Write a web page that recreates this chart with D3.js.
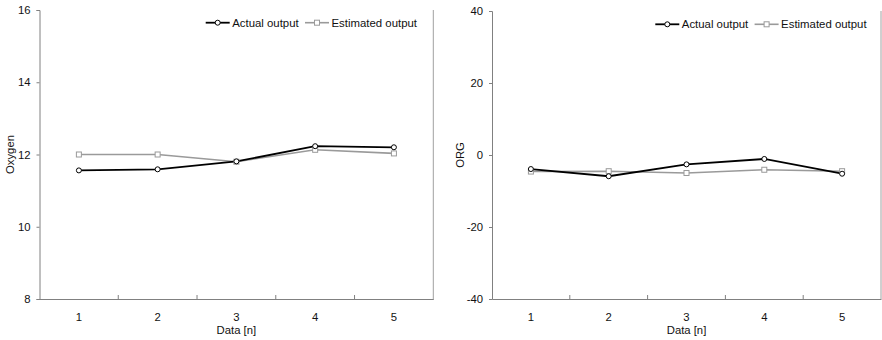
<!DOCTYPE html>
<html><head><meta charset="utf-8">
<script src="https://cdn.jsdelivr.net/npm/d3@7"></script>
<style>
body{margin:0;background:#fff;}
svg{display:block;font-family:"Liberation Sans",Arial,Helvetica,sans-serif;}
</style></head>
<body><svg id="c" width="882" height="340"></svg>
<script>
const categories = ["1","2","3","4","5"];
const oxygenActual = [11.56, 11.59, 11.81, 12.23, 12.20];
const oxygenEstimated = [12.00, 12.00, 11.80, 12.13, 12.03];
const orgActual = [-3.9, -5.9, -2.6, -1.1, -5.2];
const orgEstimated = [-4.6, -4.5, -5.0, -4.1, -4.5];
const oxygenTicks = [8, 10, 12, 14, 16];
const orgTicks = [-40, -20, 0, 20, 40];
const seriesNames = ["Actual output", "Estimated output"];

const svg = d3.select("#c");

function panel(cfg) {
  const g = svg.append("g");
  const x = d3.scaleBand().domain(categories).range([cfg.x0, cfg.x1]).padding(0);
  const y = d3.scaleLinear().domain([cfg.ticks[0], cfg.ticks[cfg.ticks.length-1]]).range([cfg.y1, cfg.y0]);
  const axisCol = "#808080";

  // right border
  g.append("line").attr("x1", cfg.x1).attr("x2", cfg.x1).attr("y1", cfg.y0).attr("y2", cfg.y1)
    .attr("stroke", "#a0a0a0").attr("stroke-width", 1);

  // y axis
  const ya = g.append("g").attr("transform", `translate(${cfg.x0},0)`)
    .call(d3.axisLeft(y).tickValues(cfg.ticks).tickSize(3).tickPadding(6).tickFormat(d => String(d)));
  ya.select(".domain").attr("stroke", axisCol);
  ya.selectAll(".tick line").attr("stroke", axisCol);
  ya.selectAll("text").attr("font-size", 11.3).attr("fill", "#111").attr("font-family", "Liberation Sans, Arial, sans-serif");

  // x axis: labels at centers, tick marks at band boundaries (inward)
  const xa = g.append("g").attr("transform", `translate(0,${cfg.y1})`)
    .call(d3.axisBottom(x).tickSize(0).tickPadding(14));
  xa.select(".domain").attr("stroke", axisCol);
  xa.selectAll("text").attr("font-size", 11.3).attr("fill", "#111").attr("font-family", "Liberation Sans, Arial, sans-serif");
  const bounds = categories.slice(1).map(c => x(c));
  g.selectAll(".xb").data(bounds).enter().append("line")
    .attr("x1", d => d).attr("x2", d => d).attr("y1", cfg.y1).attr("y2", cfg.y1 - 4)
    .attr("stroke", axisCol);

  // titles
  g.append("text").attr("x", (cfg.x0 + cfg.x1) / 2).attr("y", 334).attr("text-anchor", "middle")
    .attr("font-size", 11.3).attr("fill", "#111").text("Data [n]");
  g.append("text").attr("transform", `translate(${cfg.ylx},${(cfg.y0 + cfg.y1) / 2}) rotate(-90)`)
    .attr("text-anchor", "middle").attr("font-size", 11.3).attr("fill", "#111").text(cfg.ylabel);

  const line = d3.line().x((d, i) => x(categories[i]) + x.bandwidth() / 2).y(d => y(d));

  // estimated
  g.append("path").datum(cfg.est).attr("d", line).attr("fill", "none").attr("stroke", "#9a9a9a").attr("stroke-width", 1.6);
  // actual
  g.append("path").datum(cfg.act).attr("d", line).attr("fill", "none").attr("stroke", "#000").attr("stroke-width", 1.8);

  g.selectAll(".sq").data(cfg.est).enter().append("rect")
    .attr("x", (d, i) => x(categories[i]) + x.bandwidth() / 2 - 2.5)
    .attr("y", d => y(d) - 2.5).attr("width", 5).attr("height", 5)
    .attr("fill", "#fff").attr("stroke", "#9a9a9a").attr("stroke-width", 1);
  g.selectAll(".ci").data(cfg.act).enter().append("circle")
    .attr("cx", (d, i) => x(categories[i]) + x.bandwidth() / 2)
    .attr("cy", d => y(d)).attr("r", 2.5)
    .attr("fill", "#fff").attr("stroke", "#000").attr("stroke-width", 1);

  // legend
  const ly = cfg.ly;
  const L = g.append("g");
  L.append("line").attr("x1", cfg.lx).attr("x2", cfg.lx + 24).attr("y1", ly).attr("y2", ly).attr("stroke", "#000").attr("stroke-width", 1.8);
  L.append("circle").attr("cx", cfg.lx + 12).attr("cy", ly).attr("r", 2.5).attr("fill", "#fff").attr("stroke", "#000");
  L.append("text").attr("x", cfg.lx + 26.5).attr("y", ly + 4).attr("font-size", 11.4).attr("fill", "#111").text(seriesNames[0]);
  const gx = cfg.lx + 99.3;
  L.append("line").attr("x1", gx).attr("x2", gx + 24).attr("y1", ly).attr("y2", ly).attr("stroke", "#9a9a9a").attr("stroke-width", 1.6);
  L.append("rect").attr("x", gx + 12 - 2.5).attr("y", ly - 2.5).attr("width", 5).attr("height", 5).attr("fill", "#fff").attr("stroke", "#9a9a9a");
  L.append("text").attr("x", gx + 26.5).attr("y", ly + 4).attr("font-size", 11.4).attr("fill", "#111").text(seriesNames[1]);
}

panel({x0: 39.5, x1: 433.3, y0: 10, y1: 299, ticks: oxygenTicks, act: oxygenActual, est: oxygenEstimated,
       ylabel: "Oxygen", ylx: 14, lx: 205.7, ly: 22.7});
panel({x0: 492, x1: 881, y0: 11, y1: 299, ticks: orgTicks, act: orgActual, est: orgEstimated,
       ylabel: "ORG", ylx: 464, lx: 655.3, ly: 24.3});
</script>
</body></html>
